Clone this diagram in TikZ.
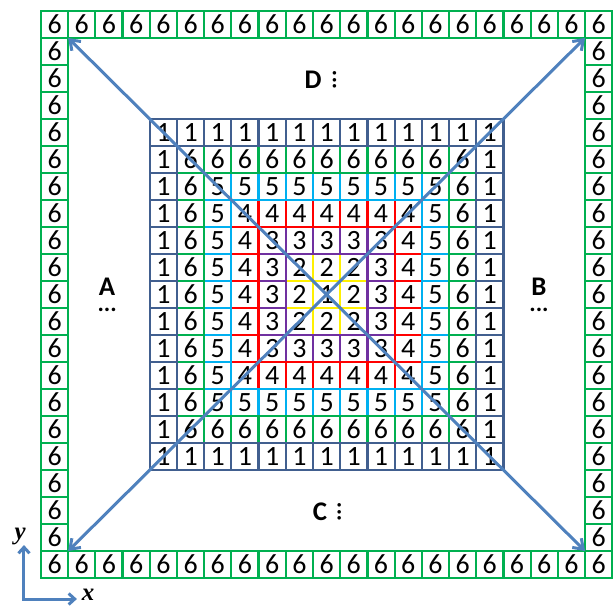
\documentclass[tikz,border=0pt]{standalone}
\usepackage{fontspec}
\setmainfont{Carlito}
\newfontfamily\axisfont{Liberation Serif}
\usetikzlibrary{arrows.meta, positioning}

\begin{document}
\begin{tikzpicture}[x=27.2bp, y=27bp, >={Straight Barb[length=9bp, width=13bp]}, font=\fontsize{28}{28}\selectfont]
	\definecolor{ringblue}{RGB}{65, 95, 143}
	\definecolor{ringgreen}{RGB}{0, 176, 80}
	\definecolor{ringcyan}{RGB}{0, 176, 240}
	\definecolor{ringred}{RGB}{255, 0, 0}
	\definecolor{ringpurple}{RGB}{112, 48, 160}
	\definecolor{ringyellow}{RGB}{255, 240, 0}
	\definecolor{arrowblue}{RGB}{79, 129, 189}
	\tikzset{
		cell/.style={draw=#1, line width=2.2bp, minimum width=27.2bp, minimum height=27bp, inner sep=0pt},
		diag/.style={arrowblue, line width=3bp},
		side/.style={font=\fontsize{27}{27}\selectfont\bfseries, inner sep=0pt},
		dotrow/.style={font=\fontsize{24}{24}\selectfont\bfseries, inner sep=0pt},
		axislab/.style={font=\fontsize{25}{25}\selectfont\axisfont\bfseries\itshape, inner sep=0pt}
	}

	% 图片范围
	\useasboundingbox (-1.507,-1.037) rectangle (21.066,21.407);

	% 外圈：全是 6
	\foreach \k in {0,...,20} {
		\node[cell=ringgreen] (top-\k) at (\k+0.5, 20.5) {6};
		\node[cell=ringgreen] (bot-\k) at (\k+0.5, 0.5) {6};
	}
	\foreach \k in {1,...,19} {
		\node[cell=ringgreen] (lft-\k) at (0.5, \k+0.5) {6};
		\node[cell=ringgreen] (rgt-\k) at (20.5, \k+0.5) {6};
	}

	% 中间 13x13：由内向外画，外层的边框盖住内层
	\foreach \d/\v/\c in {6/1/ringyellow, 5/2/ringyellow, 4/3/ringpurple, 3/4/ringred, 2/5/ringcyan, 1/6/ringgreen, 0/1/ringblue} {
		\foreach \i in {0,...,12} {
			\foreach \j in {0,...,12} {
				\pgfmathtruncatemacro{\r}{min(\i, \j, 12-\i, 12-\j)}
				\ifnum\r=\d
					\node[cell=\c] (c-\i-\j) at (\i+4.5, 16.5-\j) {\v};
				\fi
			}
		}
	}

	% 对角箭头
	\coordinate (nw) at (1,20);
	\coordinate (ne) at (20,20);
	\coordinate (sw) at (1,1);
	\coordinate (se) at (20,1);
	\draw[<->, diag] (nw) -- (se);
	\draw[<->, diag] (ne) -- (sw);

	% 四个方向
	\node[side] (lab-a) at (2.43,10.78) {A};
	\node[dotrow, below=12bp of lab-a] (dots-a) {...};
	\node[side] (lab-b) at (18.31,10.78) {B};
	\node[dotrow, below=12bp of lab-b] (dots-b) {...};
	\node[side] (lab-d) at (10.0,18.44) {D};
	\node[dotrow, rotate=90, right=11bp of lab-d, anchor=north] (dots-d) {...};
	\node[side] (lab-c) at (10.26,2.44) {C};
	\node[dotrow, rotate=90, right=10bp of lab-c, anchor=north] (dots-c) {...};

	% 坐标轴
	\coordinate (o) at (-0.625,-0.778);
	\node[axislab] (ylab) at (-0.77,1.55) {y};
	\node[axislab] (xlab) at (1.73,-0.64) {x};
	\coordinate (ytip) at (-0.625,1.22);
	\coordinate (xtip) at (1.32,-0.778);
	\draw[<->, diag, >={Straight Barb[length=6bp, width=11bp]}] (ytip) -- (o) -- (xtip);
\end{tikzpicture}
\end{document}
